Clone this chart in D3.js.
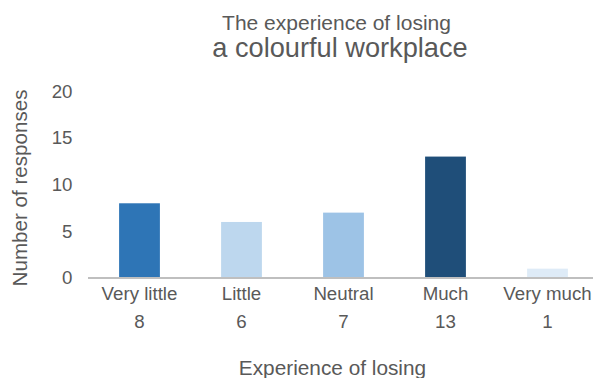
<!DOCTYPE html>
<html>
<head>
<meta charset="utf-8">
<script src="https://cdn.jsdelivr.net/npm/d3@7"></script>
<style>
  html, body { margin: 0; padding: 0; background: #fff; }
  svg { display: block; font-family: "Liberation Sans", Arial, sans-serif; }
</style>
</head>
<body>
<svg id="chart" width="593" height="378"></svg>
<script>
// Survey answers: how strongly respondents felt the loss
const categories = ["Very little", "Little", "Neutral", "Much", "Very much"];
const responses = [8, 6, 7, 13, 1];
const barColors = ["#2E75B6", "#BDD7EE", "#9DC3E6", "#1F4E79", "#DEEBF7"];
const yTicks = [0, 5, 10, 15, 20];

const svg = d3.select("#chart");
const textColor = "#595959";
const fontFamily = "Liberation Sans, Arial, sans-serif";
const labelSize = 18.7;

const x = d3.scaleBand()
  .domain(categories)
  .range([88.5, 598.5])
  .paddingInner(0.6)
  .paddingOuter(0.3);

const y = d3.scaleLinear()
  .domain([0, 20])
  .range([278, 91.2]);

// Title (two lines)
svg.append("text")
  .attr("x", 336.5).attr("y", 29.5)
  .attr("text-anchor", "middle")
  .attr("fill", textColor)
  .attr("font-size", 21)
  .text("The experience of losing");
svg.append("text")
  .attr("x", 340).attr("y", 56.7)
  .attr("text-anchor", "middle")
  .attr("fill", textColor)
  .attr("font-size", 27.2)
  .text("a colourful workplace");

// Y axis tick labels (no axis line)
const yAxis = d3.axisLeft(y).tickValues(yTicks).tickSize(0).tickPadding(0);
const yg = svg.append("g").attr("transform", "translate(72.5,0)").call(yAxis);
yg.select(".domain").remove();
yg.selectAll("text")
  .attr("fill", textColor)
  .attr("font-size", labelSize)
  .attr("font-family", fontFamily);

// Bars
svg.append("g")
  .selectAll("rect")
  .data(categories)
  .join("rect")
  .attr("x", d => x(d))
  .attr("width", x.bandwidth())
  .attr("y", (d, i) => y(responses[i]))
  .attr("height", (d, i) => y(0) - y(responses[i]))
  .attr("fill", (d, i) => barColors[i]);

// Baseline
svg.append("line")
  .attr("x1", 88).attr("x2", 593)
  .attr("y1", y(0)).attr("y2", y(0))
  .attr("stroke", "#BFBFBF")
  .attr("stroke-width", 2);

// Category labels with their counts below
const xAxis = d3.axisBottom(x).tickSize(0).tickPadding(0);
const xg = svg.append("g").attr("transform", `translate(0,${y(0)})`).call(xAxis);
xg.select(".domain").remove();
xg.selectAll("text")
  .attr("dy", null)
  .attr("y", 22)
  .attr("fill", textColor)
  .attr("font-size", labelSize)
  .attr("font-family", fontFamily);

svg.append("g")
  .selectAll("text")
  .data(categories)
  .join("text")
  .attr("x", d => x(d) + x.bandwidth() / 2)
  .attr("y", 328)
  .attr("text-anchor", "middle")
  .attr("fill", textColor)
  .attr("font-size", labelSize)
  .text((d, i) => responses[i]);

// Axis titles
svg.append("text")
  .attr("x", 332.5).attr("y", 374.5)
  .attr("text-anchor", "middle")
  .attr("fill", textColor)
  .attr("font-size", 20.8)
  .text("Experience of losing");

svg.append("text")
  .attr("transform", "translate(26.5,188) rotate(-90)")
  .attr("text-anchor", "middle")
  .attr("fill", textColor)
  .attr("font-size", 20.6)
  .text("Number of responses");
</script>
</body>
</html>
